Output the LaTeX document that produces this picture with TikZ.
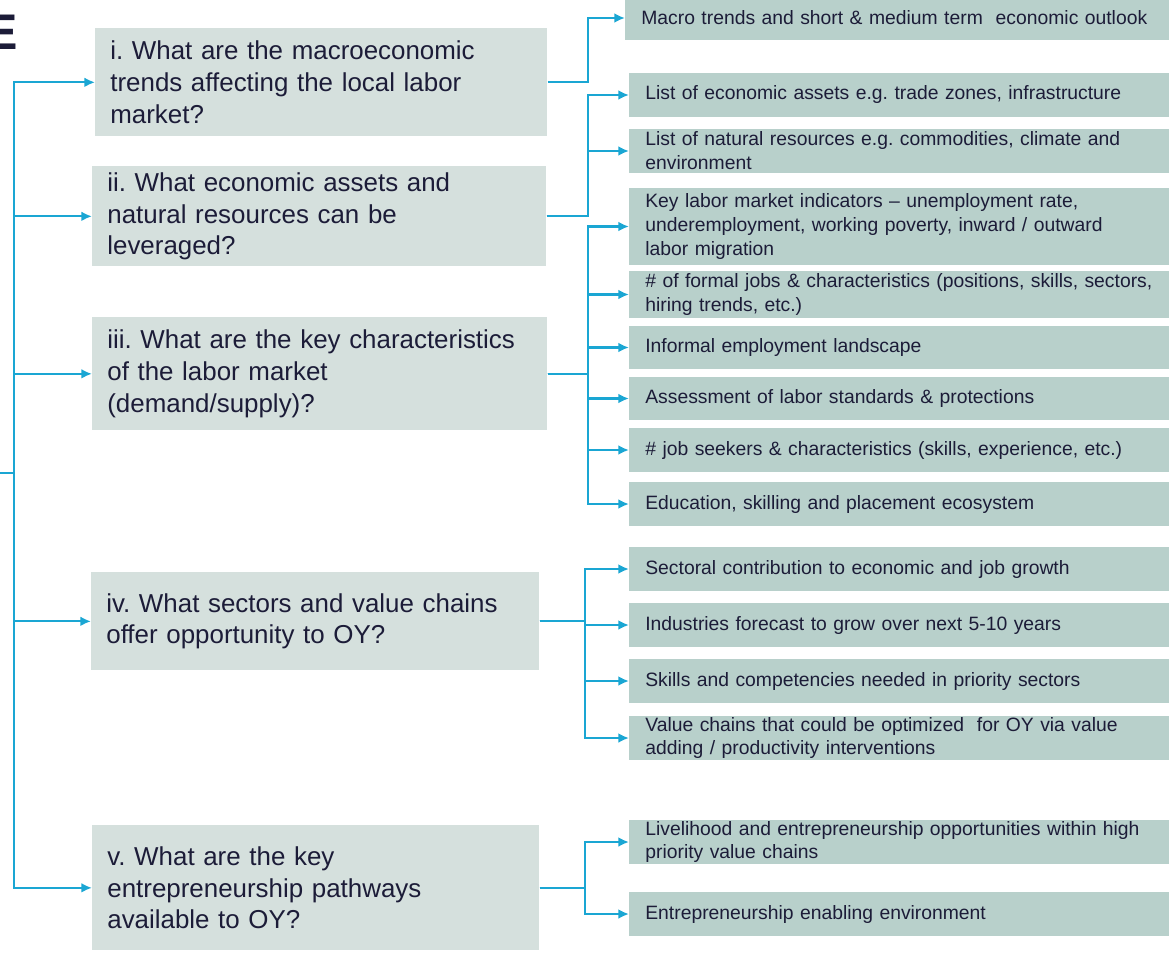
\documentclass[tikz,border=0pt]{standalone}
\usepackage{fontspec}
\setmainfont{Liberation Sans}
\usepackage{tikz}
\usetikzlibrary{arrows.meta}
\definecolor{linkblue}{HTML}{1AA6D3}
\definecolor{qfill}{HTML}{D5E0DD}
\definecolor{afill}{HTML}{B8D0CB}
\definecolor{inkblue}{HTML}{1C1C38}
\frenchspacing
\hyphenpenalty=10000

\begin{document}
\begin{tikzpicture}[x=0.02cm,y=-0.02cm,
    question/.style={fill=qfill, anchor=north west, inner xsep=0.3cm, inner ysep=0pt,
        align=left, text=inkblue, font=\fontsize{14.75}{18.1}\selectfont},
    answer/.style={fill=afill, anchor=west, inner xsep=0.32cm, inner ysep=0pt,
        text width=10.6cm, align=left, text=inkblue,
        minimum height=0.88cm, font=\fontsize{11.0}{13.6}\selectfont},
    link/.style={draw=linkblue, line width=1.2pt, -{Latex[length=6pt,width=5.5pt]}}]
	     \useasboundingbox (0,0) rectangle (1169,953);
	     % cut-off letter at the top left
	     \node[anchor=base east, inner sep=0pt, text=inkblue, font=\fontsize{28.5}{30}\selectfont\bfseries] (mark) at (18.5,50) {E};

	     % questions
	     \node[question, minimum width=9.04cm, minimum height=2.16cm, text width=8.44cm] (q1) at (95,28)
	     	{i. What are the macroeconomic\\trends affecting the local labor\\market?};
	     \node[question, minimum width=9.08cm, minimum height=2.0cm, text width=8.48cm] (q2) at (92,166)
	     	{ii. What economic assets and\\natural resources can be\\leveraged?};
	     \node[question, minimum width=9.1cm, minimum height=2.26cm, text width=8.5cm] (q3) at (92,317)
	     	{iii. What are the key characteristics\\of the labor market\\(demand/supply)?};
	     \node[question, minimum width=8.96cm, minimum height=1.96cm, text width=8.36cm] (q4) at (91,572)
	     	{iv. What sectors and value chains\\offer opportunity to OY?};
	     \node[question, minimum width=8.94cm, minimum height=2.5cm, text width=8.34cm] (q5) at (92,825)
	     	{v. What are the key\\entrepreneurship pathways\\available to OY?};

	     % answers
	     \node[answer, minimum height=0.9cm] (a1) at (625,18) {Macro trends and short \& medium term\ \ economic outlook};
	     \node[answer] (a2) at (629,95) {List of economic assets e.g. trade zones, infrastructure};
	     \node[answer] (a3) at (629,151) {List of natural resources e.g. commodities, climate and\\environment};
	     \node[answer, minimum height=1.54cm] (a4) at (629,226.5) {Key labor market indicators – unemployment rate,\\underemployment, working poverty, inward / outward\\labor migration};
	     \node[answer, minimum height=0.94cm] (a5) at (629,294.5) {\# of formal jobs \& characteristics (positions, skills, sectors,\\hiring trends, etc.)};
	     \node[answer, minimum height=0.86cm] (a6) at (629,347.5) {Informal employment landscape};
	     \node[answer, minimum height=0.86cm] (a7) at (629,398.5) {Assessment of labor standards \& protections};
	     \node[answer] (a8) at (629,450) {\# job seekers \& characteristics (skills, experience, etc.)};
	     \node[answer] (a9) at (629,504) {Education, skilling and placement ecosystem};
	     \node[answer] (a10) at (629,569) {Sectoral contribution to economic and job growth};
	     \node[answer] (a11) at (629,625) {Industries forecast to grow over next 5-10 years};
	     \node[answer] (a12) at (629,681) {Skills and competencies needed in priority sectors};
	     \node[answer] (a13) at (629,738) {Value chains that could be optimized\ \ for OY via value\\adding / productivity interventions};
	     \node[answer] (a14) at (629,842) {Livelihood and entrepreneurship opportunities within high\\priority value chains};
	     \node[answer] (a15) at (629,914) {Entrepreneurship enabling environment};

	     % left bus
	     \coordinate (stub) at (0,473);
	     \coordinate (hub) at (14,473);
	     \draw[link, -] (stub) -- (hub);
	     \foreach \q in {q1,q2,q3,q4,q5}
	     	\draw[link] (hub) |- (\q.west);

	     % right branches
	     \draw[link] (q1.east) -- ++(40,0) |- (a1.west);
	     \foreach \a in {a2,a3}
	     	\draw[link] (q2.east) -- ++(41,0) |- (\a.west);
	     \foreach \a in {a4,a5,a6,a7,a8,a9}
	     	\draw[link] (q3.east) -- ++(40,0) |- (\a.west);
	     \foreach \a in {a10,a11,a12,a13}
	     	\draw[link] (q4.east) -- ++(45,0) |- (\a.west);
	     \foreach \a in {a14,a15}
	     	\draw[link] (q5.east) -- ++(45,0) |- (\a.west);
\end{tikzpicture}
\end{document}
